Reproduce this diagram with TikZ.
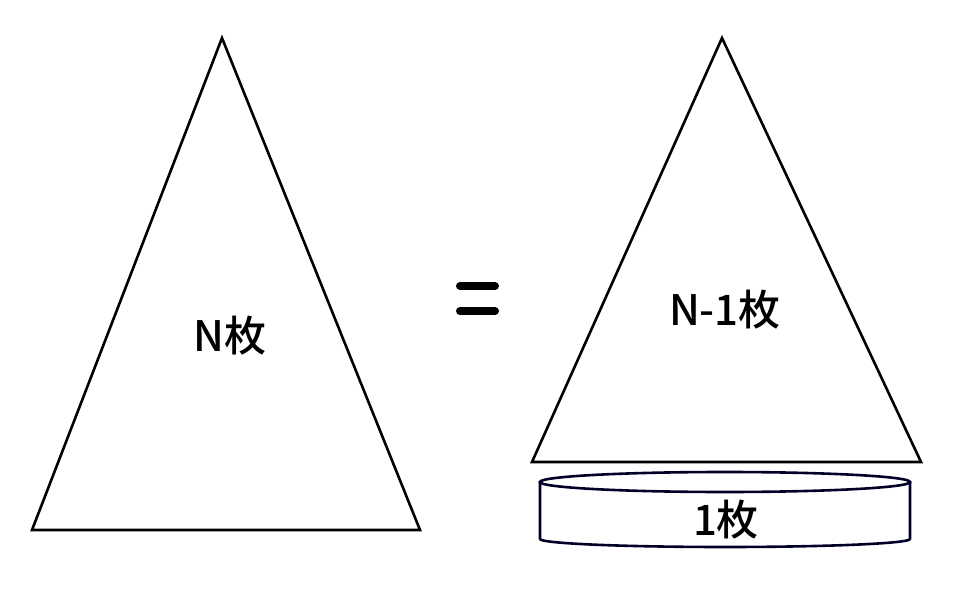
\documentclass[tikz,border=0pt]{standalone}
\usepackage{fontspec}
\newfontfamily\jpfont{Noto Sans CJK JP}[UprightFont=* Medium]
\usepackage{tikz}

\tikzset{
  tri/.style={draw=black, line width=2.6pt, line join=miter},
  disc/.style={draw=black!60!blue!40!black, line width=2.6pt},
  lbl/.style={font=\jpfont\fontsize{42}{48}\selectfont, inner sep=0pt}
}

\begin{document}
\begin{tikzpicture}[x=1pt, y=1pt]
\useasboundingbox (0,0) rectangle (960,592);
% left pile
\coordinate (A) at (222,554);
\coordinate (B) at (32,62);
\coordinate (C) at (420,62);
\draw [tri] (A) -- (B) -- (C) -- cycle;
\node [lbl] (N) at (230,256) {N枚};
% equals
\coordinate (E1) at (460,306);
\coordinate (E2) at (495,306);
\coordinate (E3) at (460,281);
\coordinate (E4) at (495,281);
\draw [line width=8pt, line cap=round] (E1) -- (E2);
\draw [line width=8pt, line cap=round] (E3) -- (E4);
% right pile
\coordinate (P) at (722,554);
\coordinate (Q) at (532,130);
\coordinate (R) at (921,130);
\draw [tri] (P) -- (Q) -- (R) -- cycle;
\node [lbl] (N1) at (725,282) {N-1枚};
% one sheet
\draw [disc] (725,110) ellipse [x radius=185, y radius=10];
\draw [disc, line join=round] (540,110) -- (540,53) arc [start angle=180, end angle=360, x radius=185, y radius=8] -- (910,110);
\node [lbl] (S) at (726,72) {1枚};
\end{tikzpicture}
\end{document}
